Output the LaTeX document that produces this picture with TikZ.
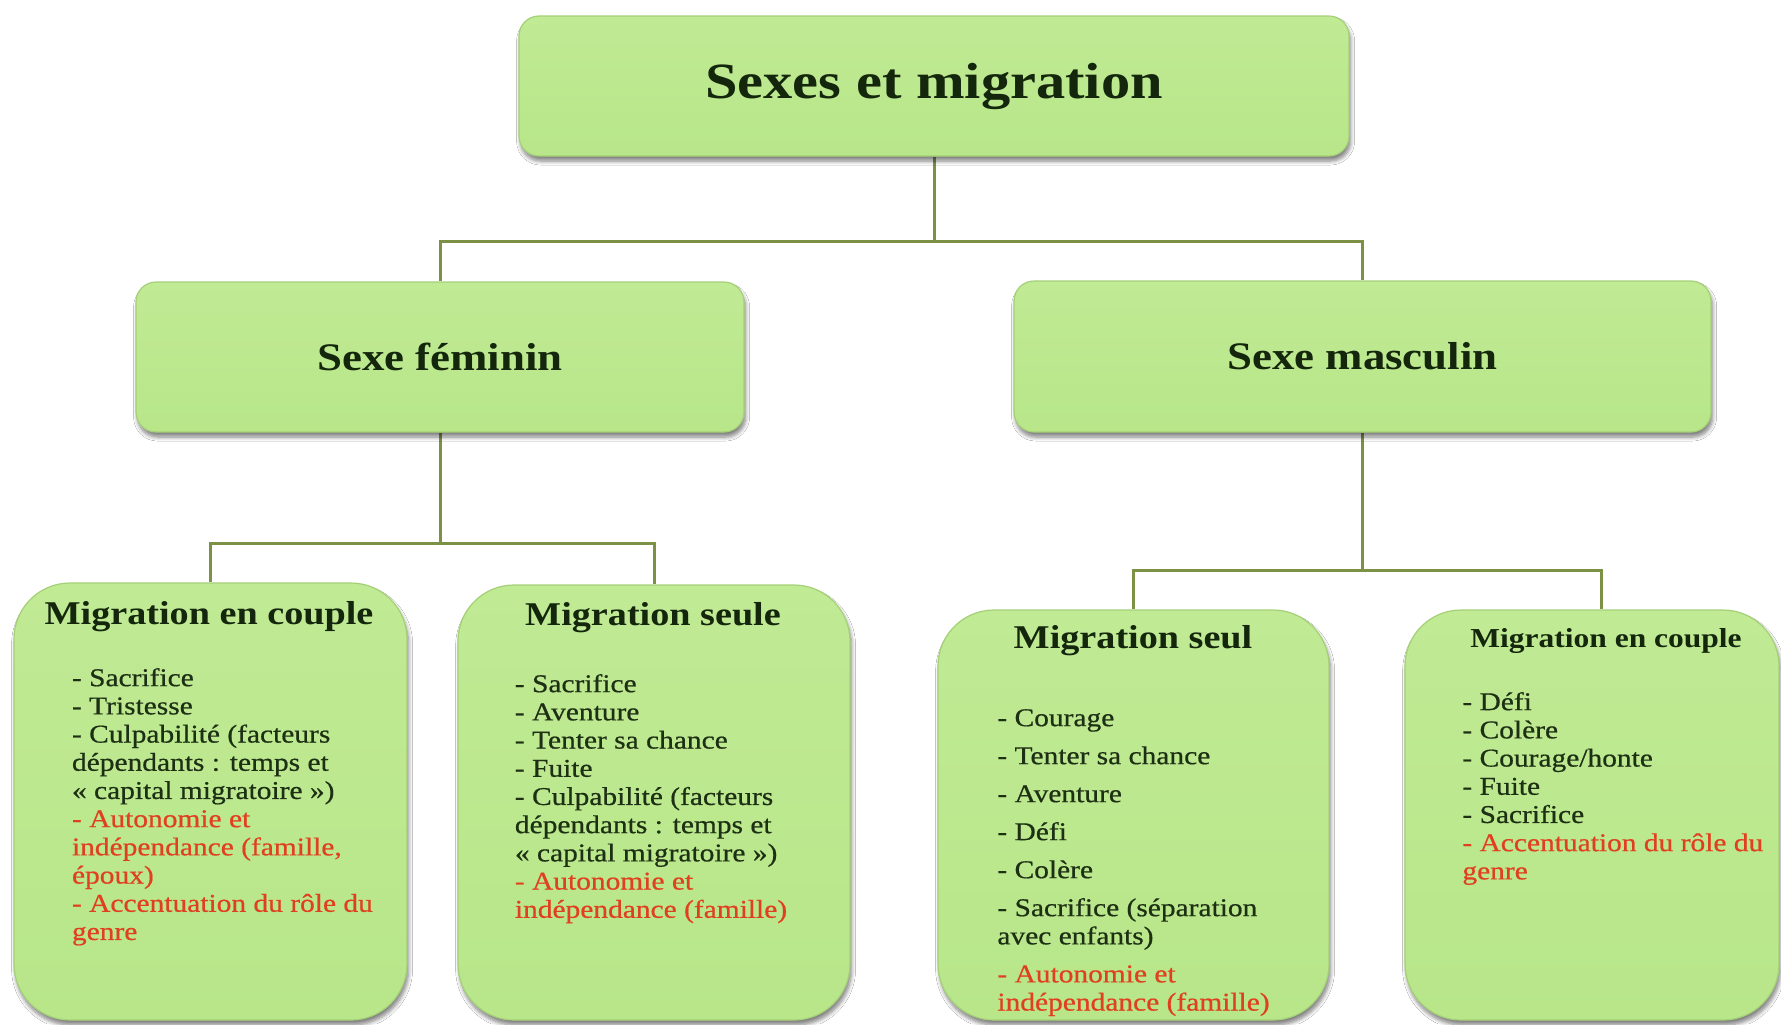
\documentclass[tikz,border=0pt]{standalone}
\usepackage{fontspec}
\setmainfont{Liberation Serif}[FakeStretch=1.15]
\newfontfamily\bodyfam{Liberation Serif}[FakeStretch=1.15, FakeBold=0.6]
\usetikzlibrary{shadows.blur,calc,backgrounds}
\definecolor{boxfill}{RGB}{184,230,137}
\definecolor{boxtop}{RGB}{192,234,148}
\definecolor{boxrim}{RGB}{165,208,120}
\definecolor{linkcol}{RGB}{125,145,70}
\definecolor{headcol}{RGB}{20,38,12}
\definecolor{bodycol}{RGB}{30,48,20}
\definecolor{redtxt}{RGB}{224,64,32}
\tikzset{
  gbox/.style={draw=boxrim, line width=0.6pt, top color=boxtop, bottom color=boxfill,
    blur shadow={shadow xshift=0.8pt, shadow yshift=-2.5pt, shadow blur radius=2pt, shadow opacity=50, shadow blur steps=6},
    inner sep=0pt},
  topbox/.style={gbox, rounded corners=10pt, text=headcol, font=\fontsize{25.4}{30}\selectfont\bfseries},
  midbox/.style={gbox, rounded corners=10pt, text=headcol, font=\fontsize{19.5}{23}\selectfont\bfseries},
  lowbox/.style={gbox, rounded corners=28pt},
  headtxt/.style={inner sep=0pt, text=headcol, font=\fontsize{16.6}{20}\selectfont\bfseries},
  bodytxt/.style={inner sep=0pt, anchor=north west, align=left, text=bodycol, font=\bodyfam\fontsize{12.8}{14.1}\selectfont},
  link/.style={draw=linkcol, line width=1.5pt}
}
\newcommand{\rd}[1]{\textcolor{redtxt}{#1}}
\begin{document}
\begin{tikzpicture}[x=0.5pt,y=-0.5pt]
\useasboundingbox (0,0) rectangle (1781,1024);

\node[topbox, minimum width=415pt, minimum height=70pt] (top) at (934,86) {Sexes et migration};
\node[midbox, minimum width=304pt, minimum height=75pt] (fem) at (440,357) {Sexe féminin};
\node[midbox, minimum width=348.5pt, minimum height=75.5pt] (masc) at (1362.5,356.5) {Sexe masculin};

\node[lowbox, minimum width=196.5pt, minimum height=218.5pt] (A) at (210.5,801.5) {};
\node[lowbox, minimum width=196pt, minimum height=217.5pt] (B) at (654,802.5) {};
\node[lowbox, minimum width=195.5pt, minimum height=205pt] (C) at (1133.5,815) {};
\node[lowbox, minimum width=187pt, minimum height=205pt] (D) at (1592,815) {};

\node[headtxt] (Ah) at (209,617) {Migration en couple};
\node[headtxt] (Bh) at (653,618) {Migration seule};
\node[headtxt] (Ch) at (1133,641) {Migration seul};
\node[headtxt, font=\fontsize{13.7}{16}\selectfont\bfseries] (Dh) at (1606,641) {Migration en couple};

\node[bodytxt] (Ab) at (71.6,666) {\strut- Sacrifice\\
- Tristesse\\
- Culpabilité (facteurs\\
dépendants : temps et\\
« capital migratoire »)\\
\rd{- Autonomie et}\\
\rd{indépendance (famille,}\\
\rd{époux)}\\
\rd{- Accentuation du rôle du}\\
\rd{genre}};

\node[bodytxt] (Bb) at (514.5,672) {\strut- Sacrifice\\
- Aventure\\
- Tenter sa chance\\
- Fuite\\
- Culpabilité (facteurs\\
dépendants : temps et\\
« capital migratoire »)\\
\rd{- Autonomie et}\\
\rd{indépendance (famille)}};

\node[bodytxt] (Cb) at (997,706) {\strut- Courage\\[4.9pt]
- Tenter sa chance\\[4.9pt]
- Aventure\\[4.9pt]
- Défi\\[4.9pt]
- Colère\\[4.9pt]
- Sacrifice (séparation\\
avec enfants)\\[4.9pt]
\rd{- Autonomie et}\\
\rd{indépendance (famille)}};

\node[bodytxt] (Db) at (1462,690) {\strut- Défi\\
- Colère\\
- Courage/honte\\
- Fuite\\
- Sacrifice\\
\rd{- Accentuation du rôle du}\\
\rd{genre}};

\begin{scope}[on background layer]
\fill[white] (0,0) rectangle (1781,1024);
\draw[link] (top.south) -- (top.south |- 0,241) -| (fem.north);
\draw[link] (top.south |- 0,241) -| (masc.north);
\draw[link] (fem.south) -- (fem.south |- 0,543) -| (A.north);
\draw[link] (fem.south |- 0,543) -| (B.north);
\draw[link] (masc.south) -- (masc.south |- 0,570) -| (C.north);
\draw[link] (masc.south |- 0,570) -| ($(D.north)+(9,0)$);
\end{scope}
\end{tikzpicture}
\end{document}
